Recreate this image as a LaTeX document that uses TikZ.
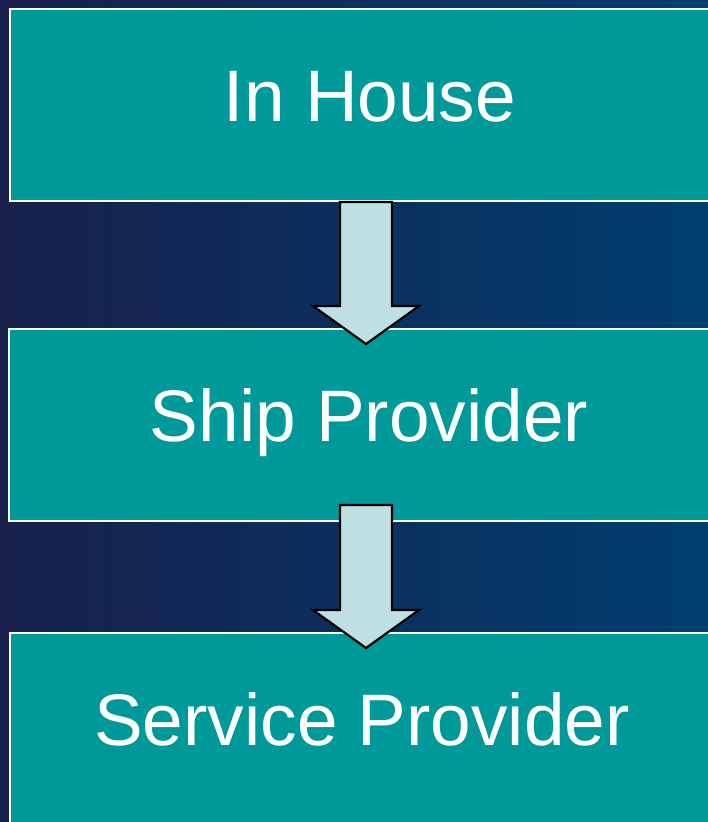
\documentclass[tikz,border=0pt]{standalone}
\usepackage{fontspec}
\setmainfont{Liberation Sans}
\usetikzlibrary{calc}

\definecolor{bgleft}{RGB}{24,32,76}
\definecolor{bgmid}{RGB}{2,48,96}
\definecolor{bgright}{RGB}{0,62,112}
\definecolor{tealbox}{RGB}{0,153,153}
\definecolor{arrowfill}{RGB}{190,224,227}

\begin{document}
\begin{tikzpicture}[x=1pt,y=1pt,yscale=-1,xscale=1,
  stage/.style={draw=white, line width=2, fill=tealbox, text=white, inner sep=0pt,
    minimum width=720, minimum height=192, text height=52pt, text depth=20pt,
    font=\fontsize{73}{80}\selectfont},
  blockarrow/.style={draw=black, line width=2.2, fill=arrowfill, line join=miter}]

\useasboundingbox (0,0) rectangle (708,822);
% Background
\shade [left color=bgleft, middle color=bgmid, right color=bgright] (0,0) rectangle (708,822);

% Stages
\node [stage] (house) at (370,105) {In House};
\node [stage] (ship) at (369,425) {Ship Provider};
\node [stage, minimum width=704] (service) at (362,729) {Service Provider};

% Block Arrows
\draw [blockarrow] ($(house.south)+(-30,0)$) -- ($(ship.north)+(-29,-22)$) -- ($(ship.north)+(-56,-22)$) -- ($(ship.north)+(-3,16)$) -- ($(ship.north)+(50,-22)$) -- ($(ship.north)+(23,-22)$) -- ($(house.south)+(22,0)$) -- cycle;
\draw [blockarrow] ($(ship.south)+(-29,-17)$) -- ($(service.north)+(-22,-22)$) -- ($(service.north)+(-49,-22)$) -- ($(service.north)+(4,16)$) -- ($(service.north)+(57,-22)$) -- ($(service.north)+(30,-22)$) -- ($(ship.south)+(23,-17)$) -- cycle;

\end{tikzpicture}
\end{document}
